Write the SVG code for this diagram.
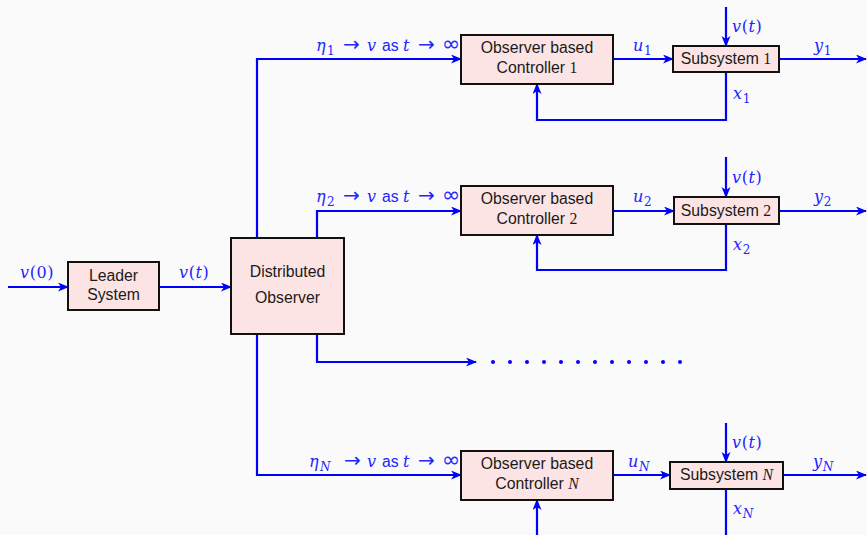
<svg xmlns="http://www.w3.org/2000/svg" width="867" height="535" viewBox="0 0 867 535">
  <defs>
    <style>
      .box{fill:#fde4e4;stroke:#111;stroke-width:2}
      .lbl{font-family:"Liberation Sans",Arial,sans-serif;font-size:15.8px;fill:#1a1a1a;text-anchor:middle}
      .wire{fill:none;stroke:#0000ff;stroke-width:2.2}
      .m{font-family:"DejaVu Serif","Liberation Serif",serif;font-size:16px;fill:#2424ff;letter-spacing:0.6px}
      .i{font-style:italic}
      .s{font-size:12px}
      .op{font-family:"DejaVu Sans",sans-serif;font-size:20px}
      .inf{font-family:"DejaVu Sans",sans-serif;font-size:22px}
      .sans{font-family:"Liberation Sans",Arial,sans-serif;font-size:15.8px;letter-spacing:0}
      .dot{fill:#0000ff}
    </style>
    <marker id="arr" markerUnits="userSpaceOnUse" markerWidth="12" markerHeight="10" refX="10" refY="4.5" orient="auto">
      <path d="M0,0 L11,4.5 L0,9 L3,4.5 Z" fill="#0000ff"/>
    </marker>
  </defs>
  <rect width="867" height="535" fill="#fafafa"/>

  <!-- connectors -->
  <g id="connectors" class="wire">
    <path d="M8,287 H68" marker-end="url(#arr)"/>
    <path d="M159,287 H231" marker-end="url(#arr)"/>
    <!-- observer outputs -->
    <path d="M257,238 V59 H461" marker-end="url(#arr)"/>
    <path d="M317,238 V211 H461" marker-end="url(#arr)"/>
    <path d="M317,334 V362 H476" marker-end="url(#arr)"/>
    <path d="M257,334 V475 H461" marker-end="url(#arr)"/>
    <!-- row 1 -->
    <path d="M613,59 H673" marker-end="url(#arr)"/>
    <path d="M726,7 V46" marker-end="url(#arr)"/>
    <path d="M779,59 H866" marker-end="url(#arr)"/>
    <path d="M726,72 V120 H537 V84" marker-end="url(#arr)"/>
    <!-- row 2 -->
    <path d="M613,211 H674" marker-end="url(#arr)"/>
    <path d="M726,157 V197" marker-end="url(#arr)"/>
    <path d="M779,211 H866" marker-end="url(#arr)"/>
    <path d="M726,224 V270 H537 V235" marker-end="url(#arr)"/>
    <!-- row N -->
    <path d="M613,475 H670" marker-end="url(#arr)"/>
    <path d="M726,423 V462" marker-end="url(#arr)"/>
    <path d="M783,475 H866" marker-end="url(#arr)"/>
    <path d="M726,489 V535"/>
    <path d="M537,535 V500" marker-end="url(#arr)"/>
  </g>

  <!-- ellipsis of further agents -->
  <g id="more">
    <circle class="dot" cx="493" cy="362" r="2"/>
    <circle class="dot" cx="510" cy="362" r="2"/>
    <circle class="dot" cx="527" cy="362" r="2"/>
    <circle class="dot" cx="544" cy="362" r="2"/>
    <circle class="dot" cx="561" cy="362" r="2"/>
    <circle class="dot" cx="578" cy="362" r="2"/>
    <circle class="dot" cx="595" cy="362" r="2"/>
    <circle class="dot" cx="612" cy="362" r="2"/>
    <circle class="dot" cx="629" cy="362" r="2"/>
    <circle class="dot" cx="646" cy="362" r="2"/>
    <circle class="dot" cx="663" cy="362" r="2"/>
    <circle class="dot" cx="680" cy="362" r="2"/>
  </g>

  <!-- connector labels -->
  <g id="labels">
    <text class="m" x="20" y="278"><tspan class="i">v</tspan>(0)</text>
    <text class="m" x="179" y="278"><tspan class="i">v</tspan>(<tspan class="i">t</tspan>)</text>

    <!-- consensus labels: each glyph placed along the wire -->
    <text class="m" y="51"><tspan class="i" x="316">η</tspan><tspan class="s" x="327" dy="4">1</tspan><tspan class="op" x="343" dy="-4">→</tspan><tspan class="i" x="367">v</tspan><tspan class="sans" x="382">as</tspan><tspan class="i" x="403">t</tspan><tspan class="op" x="418">→</tspan><tspan class="inf" x="442">∞</tspan></text>
    <text class="m" y="202"><tspan class="i" x="316">η</tspan><tspan class="s" x="327" dy="4">2</tspan><tspan class="op" x="343" dy="-4">→</tspan><tspan class="i" x="367">v</tspan><tspan class="sans" x="382">as</tspan><tspan class="i" x="403">t</tspan><tspan class="op" x="418">→</tspan><tspan class="inf" x="442">∞</tspan></text>
    <text class="m" y="467"><tspan class="i" x="309">η</tspan><tspan class="s i" x="320" dy="4">N</tspan><tspan class="op" x="344" dy="-4">→</tspan><tspan class="i" x="367">v</tspan><tspan class="sans" x="382">as</tspan><tspan class="i" x="403">t</tspan><tspan class="op" x="418">→</tspan><tspan class="inf" x="442">∞</tspan></text>

    <text class="m" x="633" y="51"><tspan class="i">u</tspan><tspan class="s" dy="4">1</tspan></text>
    <text class="m" x="814" y="51"><tspan class="i">y</tspan><tspan class="s" dy="4">1</tspan></text>
    <text class="m" x="733" y="99"><tspan class="i">x</tspan><tspan class="s" dy="4">1</tspan></text>
    <text class="m" x="732" y="32"><tspan class="i">v</tspan>(<tspan class="i">t</tspan>)</text>

    <text class="m" x="633" y="202"><tspan class="i">u</tspan><tspan class="s" dy="4">2</tspan></text>
    <text class="m" x="814" y="202"><tspan class="i">y</tspan><tspan class="s" dy="4">2</tspan></text>
    <text class="m" x="733" y="250"><tspan class="i">x</tspan><tspan class="s" dy="4">2</tspan></text>
    <text class="m" x="732" y="183"><tspan class="i">v</tspan>(<tspan class="i">t</tspan>)</text>

    <text class="m" x="628" y="467"><tspan class="i">u</tspan><tspan class="s i" dy="4">N</tspan></text>
    <text class="m" x="813" y="467"><tspan class="i">y</tspan><tspan class="s i" dy="4">N</tspan></text>
    <text class="m" x="733" y="514"><tspan class="i">x</tspan><tspan class="s i" dy="4">N</tspan></text>
    <text class="m" x="732" y="448"><tspan class="i">v</tspan>(<tspan class="i">t</tspan>)</text>
  </g>

  <!-- nodes -->
  <g id="leader">
    <rect class="box" x="68" y="262" width="91" height="48"/>
    <text class="lbl" x="113.5" y="281">Leader</text>
    <text class="lbl" x="113.5" y="300">System</text>
  </g>
  <g id="observer">
    <rect class="box" x="231" y="238" width="113" height="96"/>
    <text class="lbl" x="287.5" y="277">Distributed</text>
    <text class="lbl" x="287.5" y="303">Observer</text>
  </g>

  <g id="controller1">
    <rect class="box" x="461" y="35" width="152" height="49"/>
    <text class="lbl" x="537" y="53">Observer based</text>
    <text class="lbl" x="537" y="73">Controller <tspan font-family="Liberation Serif,serif">1</tspan></text>
  </g>
  <g id="subsystem1">
    <rect class="box" x="673" y="46" width="106" height="26"/>
    <text class="lbl" x="726" y="64">Subsystem <tspan font-family="Liberation Serif,serif">1</tspan></text>
  </g>

  <g id="controller2">
    <rect class="box" x="461" y="186" width="152" height="49"/>
    <text class="lbl" x="537" y="204">Observer based</text>
    <text class="lbl" x="537" y="224">Controller <tspan font-family="Liberation Serif,serif">2</tspan></text>
  </g>
  <g id="subsystem2">
    <rect class="box" x="674" y="197" width="105" height="27"/>
    <text class="lbl" x="726" y="216">Subsystem <tspan font-family="Liberation Serif,serif">2</tspan></text>
  </g>

  <g id="controllerN">
    <rect class="box" x="461" y="451" width="152" height="49"/>
    <text class="lbl" x="537" y="469">Observer based</text>
    <text class="lbl" x="537" y="489">Controller <tspan font-family="Liberation Serif,serif" font-style="italic">N</tspan></text>
  </g>
  <g id="subsystemN">
    <rect class="box" x="670" y="462" width="113" height="27"/>
    <text class="lbl" x="726.5" y="480">Subsystem <tspan font-family="Liberation Serif,serif" font-style="italic">N</tspan></text>
  </g>
</svg>
